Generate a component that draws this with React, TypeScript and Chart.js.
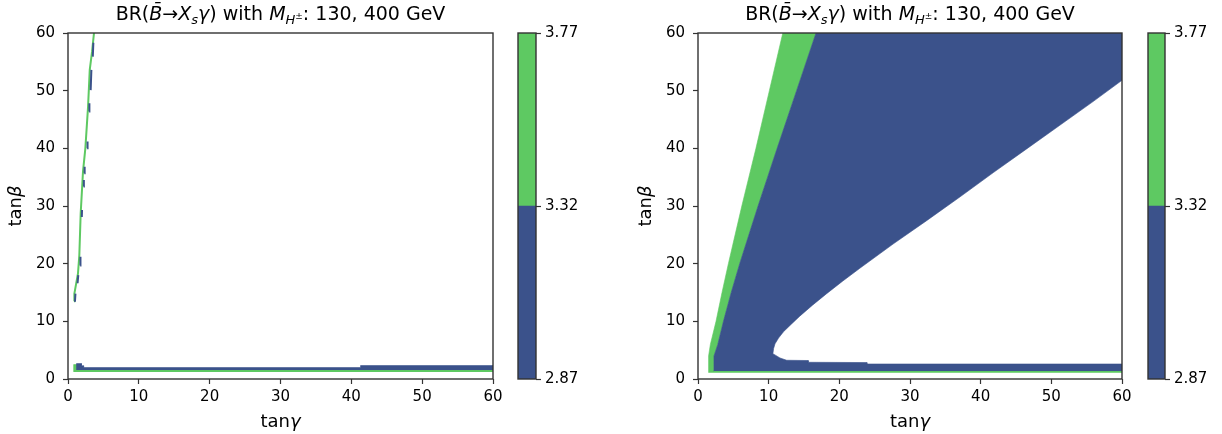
import React, { useEffect, useRef } from "react";
import { Chart, registerables } from "chart.js";
Chart.register(...registerables);

// ---------- data ----------
const AXIS_TICKS = [0, 10, 20, 30, 40, 50, 60];
const CBAR_LEVELS = [2.87, 3.32, 3.77];
const BLUE = "#3b528b";
const GREEN = "#5ec962";
// axis label pieces: [text, italic]
const X_LABEL: [string, boolean][] = [["tan", false], ["γ", true]];
const Y_LABEL: [string, boolean][] = [["tan", false], ["β", true]];

type P = [number, number];

// Left panel: thin band along the left curve (green, with blue fragments)
const L_CURVE_GREEN: P[] = [
  [0.85, 13.5], [0.9, 14.8], [1.41, 18.3], [1.6, 21.5], [1.79, 28.7], [2.12, 36],
  [2.45, 40], [2.83, 47.2], [3.07, 53.6], [3.4, 56.8], [3.67, 60],
];
const L_CURVE_BLUE_DASHES: (P | null)[] = [
  [0.98, 13.4], [1.05, 14.8], null,
  [1.35, 16.6], [1.45, 18.0], null,
  [1.72, 19.7], [1.76, 21.2], null,
  [1.95, 28.1], [1.98, 29.3], null,
  [2.2, 33.4], [2.24, 34.5], null,
  [2.3, 35.7], [2.35, 36.8], null,
  [2.7, 40.0], [2.76, 41.2], null,
  [2.98, 46.4], [3.02, 47.8], null,
  [3.2, 50.1], [3.3, 53.6], null,
  [3.5, 55.9], [3.58, 58.3],
];
// Left panel: bottom bands
const L_BAND_BLUE: P[] = [
  [1.2, 1.57], [1.2, 2.67], [1.9, 2.67], [1.9, 2.3], [2.2, 2.3], [2.2, 1.98],
  [41.3, 1.98], [41.3, 2.33], [60, 2.33], [60, 1.57],
];
const L_BAND_GREEN: P[] = [
  [0.8, 1.22], [0.8, 2.5], [1.2, 2.5], [1.2, 1.57], [60, 1.57], [60, 1.22],
];

// Right panel: green wedge outer edge and green/blue edge (bottom -> top)
const R_GREEN_EDGE: P[] = [
  [1.5, 1.1], [1.5, 4], [1.75, 6], [2.55, 10], [3.4, 15], [4.3, 20], [5.25, 25], [6.2, 30],
  [7.2, 35], [8.2, 40], [10.1, 50], [12.0, 60],
];
const R_BLUE_EDGE: P[] = [
  [2.2, 1.4], [2.26, 4], [2.8, 6], [3.6, 10], [4.7, 15], [5.9, 20], [7.2, 25], [8.5, 30],
  [9.85, 35], [11.2, 40], [13.95, 50], [16.7, 60],
];
const R_BOTTOM_STRIP: P[] = [[60, 1.4], [60, 1.1]];
// Right panel: white hole boundary, from the right edge down to the tip and back along the bottom
const R_HOLE: P[] = [
  [60, 51.8], [55.9, 48.1], [51.2, 44.0], [46.5, 39.9], [41.8, 35.8], [37.1, 31.6],
  [32.4, 27.5], [27.6, 23.4], [22.9, 19.2], [20.5, 17.0], [18.2, 14.8], [16.2, 12.8],
  [14.4, 10.9], [13.2, 9.5], [12.1, 8.2], [11.4, 7.1], [10.9, 6.1], [10.7, 5.3],
  [10.6, 4.4], [11.6, 3.65], [12.55, 3.25], [15.6, 3.2], [15.6, 2.9],
  [23.9, 2.85], [23.9, 2.6], [60, 2.6],
];
const R_TOP_RIGHT: P[] = [[60, 60]];

// ---------- helpers ----------
const pts = (a: (P | null)[]) => a.map((p) => (p ? { x: p[0], y: p[1] } : { x: NaN, y: NaN }));

const poly = (a: P[], color: string) => ({
  data: pts(a),
  fill: "shape",
  backgroundColor: color,
  borderColor: color,
  borderWidth: 0.6,
  pointRadius: 0,
  tension: 0,
});

const FONT = "'DejaVu Sans', sans-serif";
Chart.defaults.font.family = FONT;
Chart.defaults.color = "#000";

function drawPieces(ctx: CanvasRenderingContext2D, parts: [string, boolean][], size: number) {
  const widths = parts.map(([t, it]) => {
    ctx.font = `${it ? "italic " : ""}${size}px ${FONT}`;
    return ctx.measureText(t).width;
  });
  const total = widths.reduce((a, b) => a + b, 0);
  let x = -total / 2;
  parts.forEach(([t, it], i) => {
    ctx.font = `${it ? "italic " : ""}${size}px ${FONT}`;
    ctx.fillText(t, x, 0);
    x += widths[i];
  });
}

const framePlugin = {
  id: "frame",
  afterDraw(chart: any) {
    const { ctx, chartArea: a } = chart;
    ctx.save();
    ctx.strokeStyle = "#333";
    ctx.lineWidth = 1.4;
    ctx.strokeRect(a.left, a.top, a.right - a.left, a.bottom - a.top);
    ctx.restore();
  },
};

const labelPlugin = {
  id: "axisLabels",
  afterDraw(chart: any) {
    const { ctx, chartArea: a, scales } = chart;
    ctx.save();
    ctx.fillStyle = "#000";
    ctx.textAlign = "left";
    ctx.textBaseline = "alphabetic";
    ctx.translate((a.left + a.right) / 2, 427);
    drawPieces(ctx, X_LABEL, 18);
    ctx.restore();
    ctx.save();
    ctx.fillStyle = "#000";
    ctx.textAlign = "left";
    ctx.textBaseline = "alphabetic";
    ctx.translate(scales.y.left + 21, (a.top + a.bottom) / 2);
    ctx.rotate(-Math.PI / 2);
    drawPieces(ctx, Y_LABEL, 18);
    ctx.restore();
  },
};

function panelConfig(datasets: any[], padLeft: number, padRight: number) {
  const grid = { display: true, drawOnChartArea: false, drawTicks: true, tickLength: 5, tickColor: "#333", tickWidth: 1.2 };
  return {
    type: "line",
    data: { datasets },
    options: {
      animation: false,
      responsive: false,
      devicePixelRatio: 1,
      layout: { padding: { left: padLeft, right: padRight, top: 33, bottom: 0 } },
      plugins: { legend: { display: false }, tooltip: { enabled: false } },
      scales: {
        x: {
          type: "linear", min: 0, max: 60,
          afterBuildTicks: (s: any) => { s.ticks = AXIS_TICKS.map((v) => ({ value: v })); },
          afterFit: (s: any) => { s.height = 55; },
          ticks: { font: { size: 15 }, padding: 4, maxRotation: 0, autoSkip: false },
          grid, border: { display: false },
        },
        y: {
          type: "linear", min: 0, max: 60,
          afterBuildTicks: (s: any) => { s.ticks = AXIS_TICKS.map((v) => ({ value: v })); },
          afterFit: (s: any) => { s.width = 68; },
          ticks: { font: { size: 15 }, padding: 8, autoSkip: false },
          grid, border: { display: false },
        },
      },
    },
    plugins: [framePlugin, labelPlugin],
  };
}

function leftConfig() {
  return panelConfig([
    poly(L_BAND_BLUE, BLUE),
    poly(L_BAND_GREEN, GREEN),
    { data: pts(L_CURVE_BLUE_DASHES), borderColor: BLUE, borderWidth: 2, pointRadius: 0, fill: false, spanGaps: false },
    { data: pts(L_CURVE_GREEN), borderColor: GREEN, borderWidth: 2, pointRadius: 0, fill: false },
  ], 0, 17);
}

function rightConfig() {
  const green: P[] = [...R_GREEN_EDGE, ...[...R_BLUE_EDGE].reverse(), ...R_BOTTOM_STRIP];
  const blue: P[] = [...R_BLUE_EDGE, ...R_TOP_RIGHT, ...R_HOLE, [60, 1.4]];
  return panelConfig([poly(blue, BLUE), poly(green, GREEN)], 10, 18);
}

function cbarConfig(padLeft: number, axisWidth: number) {
  return {
    type: "bar",
    data: {
      labels: [""],
      datasets: [
        { data: [[CBAR_LEVELS[0], CBAR_LEVELS[1]]], backgroundColor: BLUE, grouped: false, barPercentage: 1, categoryPercentage: 1 },
        { data: [[CBAR_LEVELS[1], CBAR_LEVELS[2]]], backgroundColor: GREEN, grouped: false, barPercentage: 1, categoryPercentage: 1 },
      ],
    },
    options: {
      animation: false,
      responsive: false,
      devicePixelRatio: 1,
      layout: { padding: { left: padLeft, right: 0, top: 33, bottom: 55 } },
      plugins: { legend: { display: false }, tooltip: { enabled: false } },
      scales: {
        x: { display: false },
        y: {
          position: "right", min: CBAR_LEVELS[0], max: CBAR_LEVELS[2],
          afterBuildTicks: (s: any) => { s.ticks = CBAR_LEVELS.map((v) => ({ value: v })); },
          afterFit: (s: any) => { s.width = axisWidth; },
          ticks: { font: { size: 15 }, padding: 4, callback: (v: any) => Number(v).toFixed(2), autoSkip: false },
          grid: { display: true, drawOnChartArea: false, drawTicks: true, tickLength: 5, tickColor: "#333", tickWidth: 1.2 },
          border: { display: false },
        },
      },
    },
    plugins: [framePlugin],
  };
}

function ChartCanvas(props: { left: number; width: number; config: () => any }) {
  const ref = useRef<HTMLCanvasElement>(null);
  useEffect(() => {
    const chart = new Chart(ref.current as HTMLCanvasElement, props.config());
    return () => chart.destroy();
  }, []);
  return (
    <canvas
      ref={ref}
      width={props.width}
      height={434}
      style={{ position: "absolute", left: props.left, top: 0, width: props.width, height: 434 }}
    />
  );
}

function Title(props: { left: number; width: number }) {
  const sub: React.CSSProperties = { fontSize: "13px", position: "relative", top: "4px", lineHeight: 0 };
  const sup: React.CSSProperties = { fontSize: "9px", position: "relative", top: "-5px", lineHeight: 0 };
  return (
    <div
      style={{
        position: "absolute", left: props.left, width: props.width, top: 2, textAlign: "center",
        fontFamily: FONT, fontSize: "19px", lineHeight: "22px", color: "#000", whiteSpace: "nowrap",
      }}
    >
      BR(<i>B{"\u0304"}</i>→<i>X</i><span style={sub}><i>s</i></span><i>γ</i>) with <i>M</i>
      <span style={sub}><i>H</i><span style={sup}>±</span></span>: 130, 400 GeV
    </div>
  );
}

export default function App() {
  return (
    <div style={{ position: "absolute", left: 0, top: 0, width: 1222, height: 434, overflow: "hidden", background: "#fff" }}>
      <ChartCanvas left={0} width={510} config={leftConfig} />
      <ChartCanvas left={505} width={90} config={() => cbarConfig(13, 59)} />
      <ChartCanvas left={620} width={520} config={rightConfig} />
      <ChartCanvas left={1135} width={87} config={() => cbarConfig(13, 57)} />
      <Title left={68} width={425} />
      <Title left={698} width={424} />
    </div>
  );
}
